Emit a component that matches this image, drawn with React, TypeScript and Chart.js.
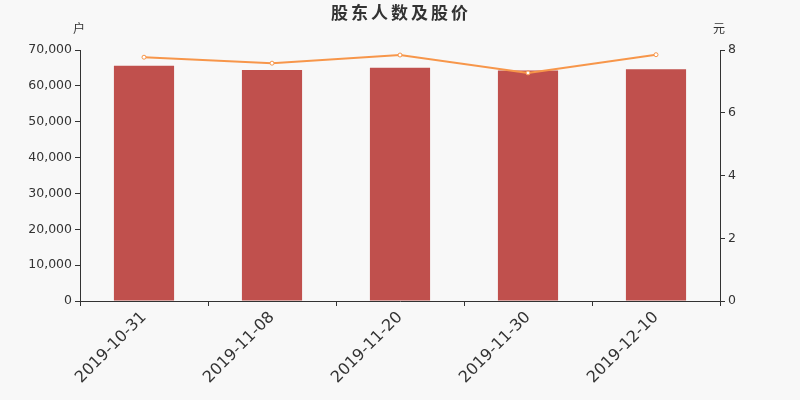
import React, { useEffect, useRef } from "react";
import { Chart, registerables } from "chart.js";

Chart.register(...registerables);

const categories = ["2019-10-31", "2019-11-08", "2019-11-20", "2019-11-30", "2019-12-10"];
const holders = [65600, 64400, 65050, 64300, 64650];
const prices = [7.77, 7.58, 7.84, 7.27, 7.85];
const leftTicks = [0, 10000, 20000, 30000, 40000, 50000, 60000, 70000];
const rightTicks = [0, 2, 4, 6, 8];
const titleText = "股东人数及股价";
const leftUnit = "户";
const rightUnit = "元";

const FONT = "'DejaVu Sans', sans-serif";

const overlay = {
  id: "overlay",
  afterDraw(chart: any) {
    const ctx = chart.ctx;
    ctx.save();
    ctx.fillStyle = "#333";
    ctx.textAlign = "center";
    ctx.textBaseline = "middle";
    ctx.font = "bold 17px 'Noto Sans CJK SC', sans-serif";
    try {
      (ctx as any).letterSpacing = "3px";
    } catch (e) {}
    ctx.fillText(titleText, 401, 13);
    try {
      (ctx as any).letterSpacing = "0px";
    } catch (e) {}
    ctx.font = "12px 'Noto Sans CJK SC', sans-serif";
    ctx.fillText(leftUnit, 79, 28);
    ctx.fillText(rightUnit, 719, 28);
    ctx.restore();
  },
};

const bgPlugin = {
  id: "bg",
  beforeDraw(chart: any) {
    const ctx = chart.ctx;
    ctx.save();
    ctx.fillStyle = "#f8f8f8";
    ctx.fillRect(0, 0, chart.width, chart.height);
    ctx.restore();
  },
};

export default function App() {
  const ref = useRef<HTMLCanvasElement>(null);
  useEffect(() => {
    document.body.style.margin = "0";
    const chart = new Chart(ref.current!, {
      type: "bar",
      data: {
        labels: categories,
        datasets: [
          {
            type: "line",
            data: prices,
            yAxisID: "y1",
            borderColor: "#f7964a",
            borderWidth: 2,
            pointRadius: 2,
            pointBorderWidth: 1,
            pointBackgroundColor: "#ffffff",
            pointBorderColor: "#f7964a",
            order: 0,
          } as any,
          {
            type: "bar",
            data: holders,
            yAxisID: "y",
            backgroundColor: "#c0504d",
            barPercentage: 0.47,
            categoryPercentage: 1,
            order: 1,
          },
        ],
      },
      options: {
        animation: false,
        responsive: false,
        layout: { padding: { top: 50, left: 0, right: 0, bottom: 0 } },
        plugins: { legend: { display: false }, tooltip: { enabled: false } },
        scales: {
          x: {
            offset: true,
            grid: { offset: true, drawOnChartArea: false, color: "#333", tickLength: 5 },
            border: { color: "#333" },
            ticks: {
              minRotation: 45,
              maxRotation: 45,
              color: "#333",
              font: { family: FONT, size: 16 },
              padding: 2,
            },
            afterFit(scale: any) {
              scale.height = 99;
            },
          },
          y: {
            position: "left",
            min: 0,
            max: 70000,
            afterBuildTicks(scale: any) {
              scale.ticks = leftTicks.map((v) => ({ value: v }));
            },
            grid: { drawOnChartArea: false, color: "#333", tickLength: 5 },
            border: { color: "#333" },
            ticks: {
              color: "#333",
              font: { family: FONT, size: 12.5 },
              padding: 3,
              callback: (v: any) => Number(v).toLocaleString("en-US"),
            },
            afterFit(scale: any) {
              scale.width = 80;
            },
          },
          y1: {
            position: "right",
            min: 0,
            max: 8,
            afterBuildTicks(scale: any) {
              scale.ticks = rightTicks.map((v) => ({ value: v }));
            },
            grid: { drawOnChartArea: false, color: "#333", tickLength: 5 },
            border: { color: "#333" },
            ticks: {
              color: "#333",
              font: { family: FONT, size: 12.5 },
              padding: 3,
            },
            afterFit(scale: any) {
              scale.width = 80;
            },
          },
        },
      },
      plugins: [bgPlugin, overlay],
    });
    return () => chart.destroy();
  }, []);
  return (
    <div style={{ width: 800, height: 400 }}>
      <canvas ref={ref} width={800} height={400} style={{ display: "block" }} />
    </div>
  );
}
